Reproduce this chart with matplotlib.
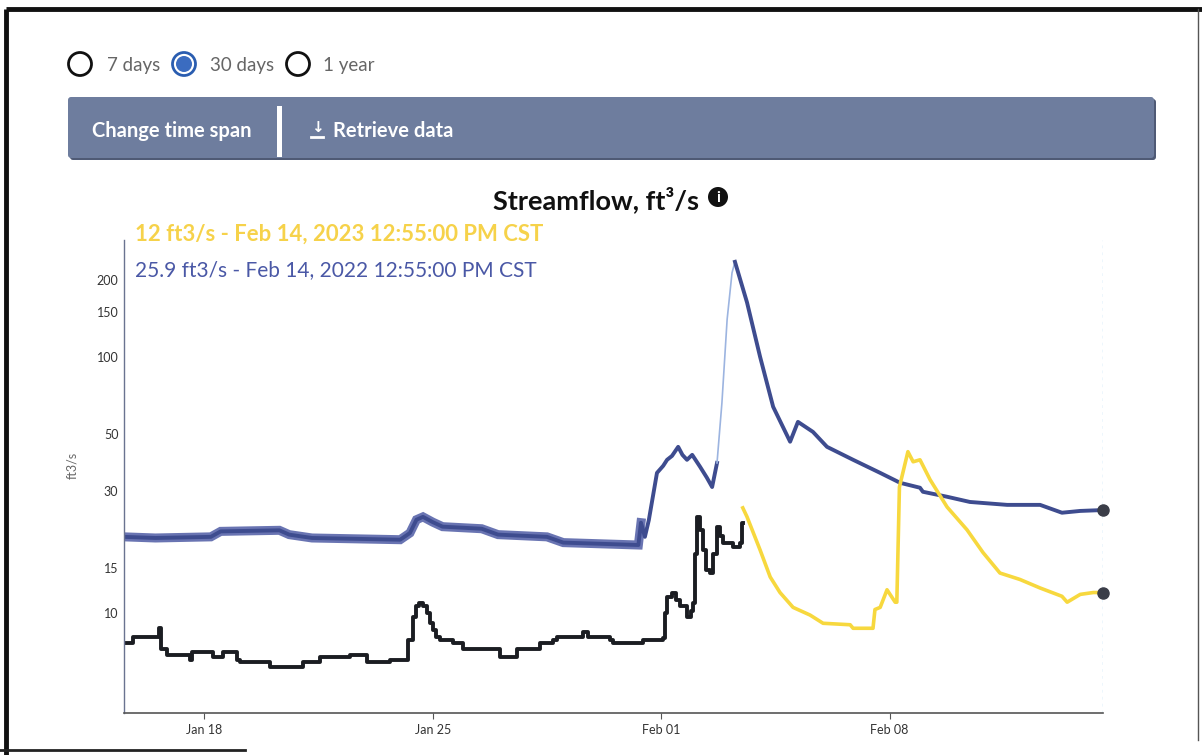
import numpy as np
import pandas as pd
import matplotlib
matplotlib.use("Agg")
import matplotlib.pyplot as plt
from matplotlib.patches import Circle, FancyBboxPatch, Rectangle

plt.rcParams['font.family'] = ['Lato', 'DejaVu Sans']

# ---------------- data (days since 2023-01-15 00:00, ft3/s) ----------------
black_t = [0.54, 0.81, 1.62, 1.68, 1.86, 2.47, 2.56, 2.62, 3.17, 3.27, 3.57, 3.88, 4.00, 4.09,
           4.92, 5.01, 5.93, 6.02, 6.54, 7.46, 7.98, 8.69, 9.09, 9.25, 9.38, 9.48, 9.58, 9.70,
           9.82, 9.92, 10.01, 10.10, 10.22, 10.62, 10.93, 11.66, 12.06, 12.46, 12.58, 13.20,
           13.29, 13.69, 13.81, 14.51, 14.61, 14.76, 15.43, 15.52, 16.35, 16.44, 17.06, 17.12,
           17.18, 17.33, 17.45, 17.58, 17.79, 17.90, 17.98, 18.05, 18.10, 18.19, 18.27, 18.38,
           18.50, 18.60, 18.71, 18.80, 18.90, 19.20, 19.40, 19.48, 19.50]
black_v = [7.6, 8.06, 8.7, 7.2, 6.85, 6.85, 6.55, 7.05, 7.05, 6.7, 7.05, 7.05, 6.55, 6.4,
           6.4, 6.16, 6.16, 6.4, 6.7, 6.85, 6.4, 6.55, 6.55, 7.85, 9.6, 10.6, 10.9, 10.6,
           10.0, 9.1, 8.6, 8.06, 7.85, 7.6, 7.2, 7.2, 6.7, 6.7, 7.2, 7.2,
           7.6, 7.85, 8.06, 8.06, 8.4, 8.06, 7.85, 7.6, 7.6, 7.85, 8.0, 10.0,
           11.5, 12.0, 11.2, 10.6, 9.6, 10.2, 10.9, 17.0, 23.7, 21.0, 17.6, 14.7,
           14.3, 17.0, 21.6, 20.0, 18.8, 18.1, 18.8, 22.4, 22.4]

yellow_t = [19.50, 19.63, 20.03, 20.34, 20.64, 21.04, 21.56, 21.96, 22.79, 22.88, 23.49, 23.55,
            23.71, 23.92, 24.17, 24.22, 24.30, 24.56, 24.72, 24.93, 25.24, 25.76, 26.37, 26.86,
            27.38, 27.99, 28.61, 29.28, 29.44, 29.84, 30.24, 30.54]
yellow_v = [25.7, 23.7, 17.6, 13.8, 12.0, 10.5, 9.8, 9.1, 8.98, 8.7, 8.7, 10.3,
            10.5, 12.3, 11.0, 11.0, 31.0, 42.6, 38.9, 39.6, 33.1, 25.9, 21.1, 17.2,
            14.3, 13.5, 12.5, 11.6, 11.0, 11.8, 12.0, 12.0]

blue_t = [0.54, 1.5, 3.2, 3.5, 5.3, 5.6, 6.3, 9.0, 9.3, 9.5, 9.7, 10.0, 10.3, 11.5, 12.0,
          13.5, 14.0, 16.3, 16.38, 16.50, 16.62, 16.87, 17.06, 17.18, 17.33, 17.52, 17.65,
          17.79, 17.95, 18.19, 18.40, 18.56, 18.71, 18.86, 19.02, 19.17, 19.26, 19.63, 20.03,
          20.43, 20.95, 21.19, 21.65, 22.08, 22.88, 23.71, 24.32, 24.93, 25.02, 25.76, 26.46,
          27.60, 28.61, 29.28, 29.84, 30.54]
blue_v = [19.8, 19.6, 19.8, 20.8, 21.0, 20.2, 19.6, 19.3, 20.5, 23.1, 23.7, 22.6, 21.7, 21.3, 20.2,
          19.8, 18.8, 18.4, 22.5, 19.8, 23.0, 35.2, 37.5, 39.6, 41.0, 44.5, 41.4,
          39.6, 41.4, 37.2, 33.7, 31.0, 38.5, 66.0, 140.0, 213.0, 235.0, 163.0, 100.0,
          63.8, 46.6, 55.7, 50.9, 44.5, 39.6, 35.2, 32.2, 30.8, 29.7, 28.4, 27.1,
          26.4, 26.4, 24.6, 25.0, 25.2]

y_ticks = [10, 15, 30, 50, 100, 150, 200]
x_tick_dates = ["2023-01-18", "2023-01-25", "2023-02-01", "2023-02-08"]
x_tick_labels = ["Jan 18", "Jan 25", "Feb 01", "Feb 08"]

start = pd.Timestamp("2023-01-15")
def to_dt(d):
    return start + pd.to_timedelta(np.asarray(d, dtype=float), unit="D")

W, H = 1202, 755
fig = plt.figure(figsize=(W / 100, H / 100), dpi=100)
fig.patch.set_facecolor("white")

# ---------------- overlay (UI) in pixel coords ----------------
ov = fig.add_axes([0, 0, 1, 1], zorder=0)
ov.set_xlim(0, W)
ov.set_ylim(H, 0)
ov.axis("off")

# frame
ov.plot([6, W], [9, 9], color="#111111", lw=3.5, solid_capstyle="butt")
ov.plot([6, 6], [9, H], color="#111111", lw=3.5, solid_capstyle="butt")
ov.plot([0, 245], [750, 750], color="#222222", lw=2)
ov.plot([1198, 1198], [9, 740], color="#555555", lw=1)

# radio buttons
for cx in (80, 298):
    ov.add_patch(Circle((cx, 64), 11.5, fill=False, ec="#111111", lw=2))
ov.add_patch(Circle((184, 64), 11.5, fill=False, ec="#2a5db0", lw=2))
ov.add_patch(Circle((184, 64), 8, fc="#3b6cc0", ec="none"))
for tx, s in ((107, "7 days"), (210, "30 days"), (323, "1 year")):
    ov.text(tx, 65, s, fontsize=13.5, color="#666666", va="center", ha="left")

# button bar
ov.add_patch(FancyBboxPatch((70, 99), 1086, 61, boxstyle="round,pad=0,rounding_size=3",
                            fc="#4f5a75", ec="none"))
ov.add_patch(FancyBboxPatch((68, 97), 1086, 61, boxstyle="round,pad=0,rounding_size=3",
                            fc="#6e7d9e", ec="none"))
ov.text(92, 131, "Change time span", fontsize=14.5, fontweight="bold", color="white",
        va="center", ha="left")
ov.add_patch(Rectangle((277, 106), 5, 51, fc="white", ec="none"))
ov.text(317, 128, "\u2193", fontsize=11, fontweight="bold", color="white", va="center",
        ha="center", family="DejaVu Sans")
ov.plot([311, 323], [137, 137], color="white", lw=2)
ov.text(333, 131, "Retrieve data", fontsize=14.5, fontweight="bold", color="white",
        va="center", ha="left")

# title and info icon
ov.text(596, 200, "Streamflow, ft\u00b3/s", fontsize=19.5, fontweight="bold", color="#111111",
        va="center", ha="center")
ov.add_patch(Circle((718, 197), 10, fc="#111111", ec="none"))
ov.text(718, 197.5, "i", fontsize=11, fontweight="bold", color="white", va="center", ha="center")

# hover labels
ov.text(135, 234, "12 ft3/s - Feb 14, 2023 12:55:00 PM CST", fontsize=15.9, fontweight="bold",
        color="#f6d24a", va="center", ha="left")
ov.text(135, 270, "25.9 ft3/s - Feb 14, 2022 12:55:00 PM CST", fontsize=15,
        color="#4a58a6", va="center", ha="left")

# y label
ov.text(72, 465, "ft3/s", fontsize=9, color="#666666", rotation=90, va="center", ha="center")

# ---------------- chart ----------------
ax = fig.add_axes([124 / W, 1 - 713 / H, 979 / W, 473 / H], zorder=2)
ax.patch.set_alpha(0)
ax.set_yscale("log")
ax.set_ylim(4.06, 286)
ax.set_xlim(to_dt(0.538), to_dt(30.538))

bt = np.array(blue_t)
bv = np.array(blue_v)
m1 = bt <= 18.71
m2 = (bt >= 18.71) & (bt <= 19.26)
m3 = bt >= 19.26
flat = bt <= 16.4
ax.plot(to_dt(bt[flat]), bv[flat], color="#4f5ca5", lw=6.5, alpha=0.85, solid_joinstyle="miter")
ax.plot(to_dt(bt[m1]), bv[m1], color="#3e4c8f", lw=2.8)
ax.plot(to_dt(bt[m2]), bv[m2], color="#9cb4e0", lw=1.2)
ax.plot(to_dt(bt[m3]), bv[m3], color="#3e4c8f", lw=2.8)

ax.plot(to_dt(black_t), black_v, color="#1b1d22", lw=2.8, drawstyle="steps-post")
ax.plot(to_dt(yellow_t), yellow_v, color="#f7d83e", lw=2.6)

ax.axvline(to_dt(30.538), color="#a8d4f2", lw=1, ls=(0, (2, 3)))
ax.plot([to_dt(blue_t[-1])], [blue_v[-1]], "o", color="#3a3d48", ms=8, zorder=5, clip_on=False)
ax.plot([to_dt(yellow_t[-1])], [yellow_v[-1]], "o", color="#3a3d48", ms=8, zorder=5, clip_on=False)

ax.set_yticks(y_ticks)
ax.set_yticklabels([str(v) for v in y_ticks])
ax.yaxis.set_minor_locator(matplotlib.ticker.NullLocator())
ax.set_xticks(pd.to_datetime(x_tick_dates))
ax.set_xticklabels(x_tick_labels)
ax.tick_params(axis="y", length=0, pad=4, labelsize=9, labelcolor="#333333")
ax.tick_params(axis="x", length=4, width=0.8, color="#555555", pad=4, labelsize=9,
               labelcolor="#333333")
for s in ("top", "right"):
    ax.spines[s].set_visible(False)
ax.spines["left"].set_color("#6a7390")
ax.spines["left"].set_linewidth(1)
ax.spines["bottom"].set_color("#555555")
ax.spines["bottom"].set_linewidth(1.2)

fig.savefig("out.png", dpi=100)
